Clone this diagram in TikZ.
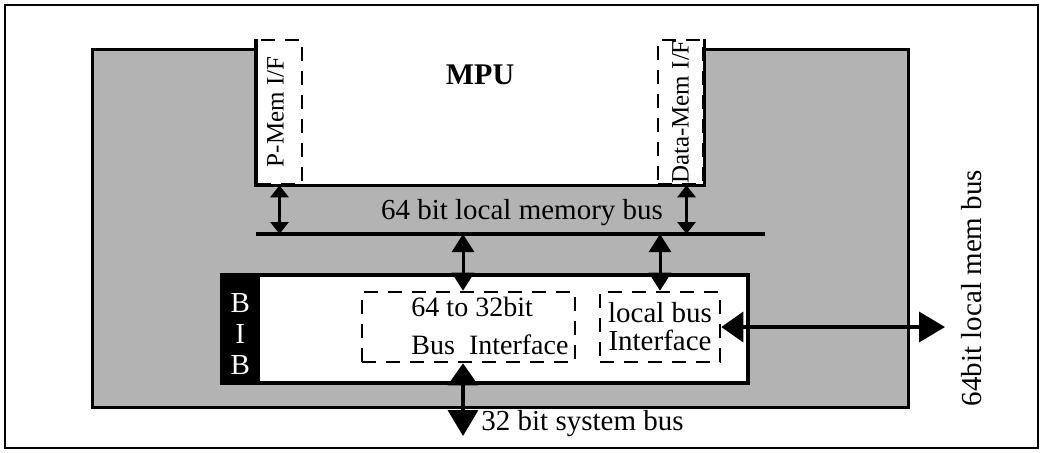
\documentclass[tikz,border=0pt]{standalone}
\usepackage{fontspec}
\setmainfont{Liberation Serif}
\usetikzlibrary{arrows.meta}
\definecolor{chipgray}{HTML}{B3B3B3}

\begin{document}
\begin{tikzpicture}[x=0.5pt,y=-0.5pt,
        every node/.style={inner sep=0pt,font=\fontsize{14.5}{17}\selectfont},
        ifbox/.style={draw,fill=white,line width=1.3pt,dash pattern=on 7pt off 5pt},
        memarrow/.style={line width=1.5pt,{Triangle[length=6pt,width=9pt]}-{Triangle[length=6pt,width=9pt]}},
        bibarrow/.style={line width=1.5pt,{Triangle[length=9pt,width=11pt]}-{Triangle[length=9pt,width=11pt]}},
        extarrow/.style={line width=1.8pt,{Triangle[length=11pt,width=15pt]}-{Triangle[length=13pt,width=15pt]}}]
        \useasboundingbox (0,0) rectangle (1043,452);
        \draw[line width=1pt] (5,5) rectangle (1038,448);

        \filldraw[fill=chipgray,line width=1.5pt] (257,49) -- (92,49) -- (92,407)
                -- (908,407) -- (908,49) -- (703,49);
        \fill[white] (257,40) rectangle (703,184);

        \node[ifbox,minimum width=22.5pt,minimum height=72pt] (pmem) at (279.5,112) {};
        \node[ifbox,minimum width=22.5pt,minimum height=72pt] (dmem) at (680.5,112) {};
        \node[rotate=90,font=\fontsize{12.5}{14}\selectfont] (pmemlbl) at ([xshift=-2pt]pmem) {P-Mem I/F};
        \node[rotate=90,font=\fontsize{12.5}{14}\selectfont] (dmemlbl) at (dmem) {Data-Mem I/F};
        \draw[line width=1.8pt] (pmem.north west) -- (pmem.south west)
                -- (dmem.south east) -- (dmem.north east);
        \node[font=\fontsize{15}{18}\bfseries] (mpu) at (480,75) {MPU};

        \coordinate (busL) at (256,234);
        \coordinate (busR) at (765,234);
        \draw[line width=2.2pt] (busL) -- (busR);
        \node (buslbl) at (522,213) {64 bit local memory bus};

        \node[draw,fill=white,line width=2.2pt,minimum width=263pt,minimum height=54pt] (bib) at (485,329) {};
        \node[fill=black,anchor=north west,minimum width=20pt,minimum height=54pt] (bibtag) at (bib.north west) {};
        \node[text=white,align=center,font=\fontsize{14.5}{15.5}\selectfont] (biblbl)
                at ([yshift=-3.5pt]bibtag) {B\\I\\B};
        \node[ifbox,minimum width=106.5pt,minimum height=35pt] (conv) at (468.5,327) {};
        \node[align=left,font=\fontsize{14}{19}\selectfont] (convlbl) at (490,326) {64 to 32bit\\Bus~~Interface};
        \node[ifbox,minimum width=60pt,minimum height=35pt,align=center,
                font=\fontsize{14.5}{14}\selectfont] (local) at (660,327) {local bus\\Interface};

        \draw[memarrow] (pmem.south) -- (pmem.south |- busL);
        \coordinate (dtap) at ([xshift=3pt]dmem.south);
        \draw[memarrow] (dtap) -- (dtap |- busL);
        \coordinate (convtap) at (463,234);
        \draw[bibarrow] (convtap) -- (convtap |- conv.north);
        \draw[bibarrow] (local.north |- busL) -- (local.north);

        \coordinate (sysend) at (463,436);
        \draw[extarrow] (convtap |- conv.south) -- (sysend);
        \node[anchor=west] (syslbl) at (481,424) {32 bit system bus};

        \coordinate (memend) at (945,328);
        \draw[extarrow] (local.east) -- (local.east -| memend);
        \node[rotate=90] (memlbl) at (972,288) {64bit local mem bus};
\end{tikzpicture}
\end{document}
